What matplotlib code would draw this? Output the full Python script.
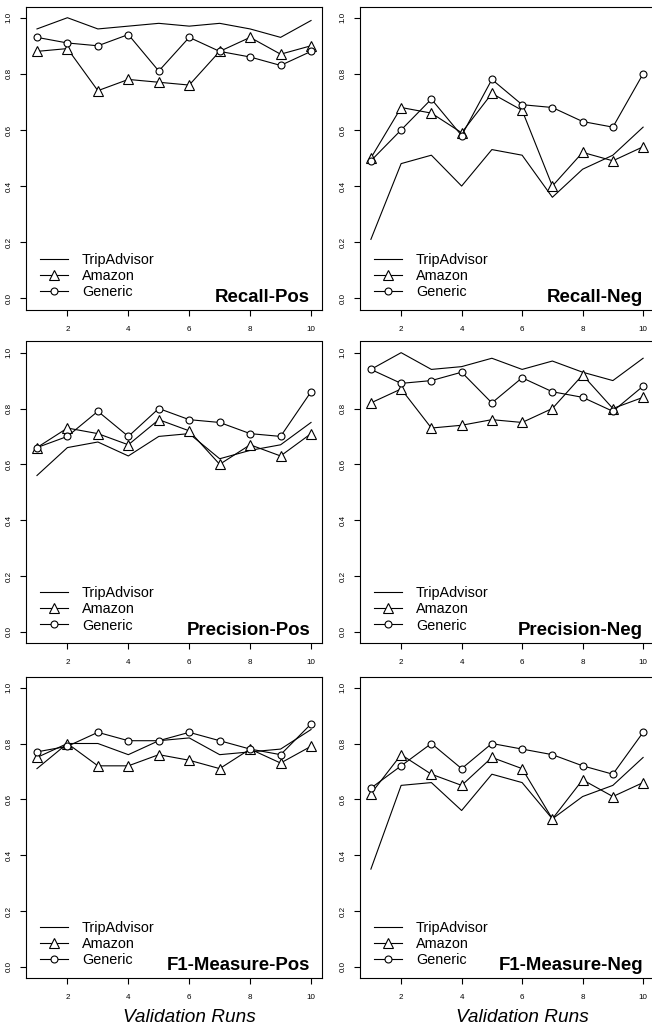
import matplotlib
matplotlib.use("Agg")
import matplotlib.pyplot as plt
import matplotlib.transforms as mtransforms
from matplotlib.lines import Line2D

plt.rcParams['font.family'] = ['Liberation Sans', 'DejaVu Sans']

runs = list(range(1, 11))
series_names = ["TripAdvisor", "Amazon", "Generic"]

recall_pos_trip = [0.96, 1.00, 0.96, 0.97, 0.98, 0.97, 0.98, 0.96, 0.93, 0.99]
recall_pos_amz = [0.88, 0.89, 0.74, 0.78, 0.77, 0.76, 0.88, 0.93, 0.87, 0.90]
recall_pos_gen = [0.93, 0.91, 0.90, 0.94, 0.81, 0.93, 0.88, 0.86, 0.83, 0.88]

recall_neg_trip = [0.21, 0.48, 0.51, 0.40, 0.53, 0.51, 0.36, 0.46, 0.51, 0.61]
recall_neg_amz = [0.50, 0.68, 0.66, 0.59, 0.73, 0.67, 0.40, 0.52, 0.49, 0.54]
recall_neg_gen = [0.49, 0.60, 0.71, 0.58, 0.78, 0.69, 0.68, 0.63, 0.61, 0.80]

prec_pos_trip = [0.56, 0.66, 0.68, 0.63, 0.70, 0.71, 0.62, 0.65, 0.67, 0.75]
prec_pos_amz = [0.66, 0.73, 0.71, 0.67, 0.76, 0.72, 0.60, 0.67, 0.63, 0.71]
prec_pos_gen = [0.66, 0.70, 0.79, 0.70, 0.80, 0.76, 0.75, 0.71, 0.70, 0.86]

prec_neg_trip = [0.94, 1.00, 0.94, 0.95, 0.98, 0.94, 0.97, 0.93, 0.90, 0.98]
prec_neg_amz = [0.82, 0.87, 0.73, 0.74, 0.76, 0.75, 0.80, 0.92, 0.80, 0.84]
prec_neg_gen = [0.94, 0.89, 0.90, 0.93, 0.82, 0.91, 0.86, 0.84, 0.79, 0.88]

f1_pos_trip = [0.71, 0.80, 0.80, 0.76, 0.81, 0.82, 0.76, 0.77, 0.78, 0.85]
f1_pos_amz = [0.75, 0.80, 0.72, 0.72, 0.76, 0.74, 0.71, 0.78, 0.73, 0.79]
f1_pos_gen = [0.77, 0.79, 0.84, 0.81, 0.81, 0.84, 0.81, 0.78, 0.76, 0.87]

f1_neg_trip = [0.35, 0.65, 0.66, 0.56, 0.69, 0.66, 0.53, 0.61, 0.65, 0.75]
f1_neg_amz = [0.62, 0.76, 0.69, 0.65, 0.75, 0.71, 0.53, 0.67, 0.61, 0.66]
f1_neg_gen = [0.64, 0.72, 0.80, 0.71, 0.80, 0.78, 0.76, 0.72, 0.69, 0.84]

panel_titles = ["Recall-Pos", "Recall-Neg", "Precision-Pos", "Precision-Neg",
                "F1-Measure-Pos", "F1-Measure-Neg"]
panel_data = [
    (recall_pos_trip, recall_pos_amz, recall_pos_gen),
    (recall_neg_trip, recall_neg_amz, recall_neg_gen),
    (prec_pos_trip, prec_pos_amz, prec_pos_gen),
    (prec_neg_trip, prec_neg_amz, prec_neg_gen),
    (f1_pos_trip, f1_pos_amz, f1_pos_gen),
    (f1_neg_trip, f1_neg_amz, f1_neg_gen),
]
x_ticks = [2, 4, 6, 8, 10]
y_ticks = [0.0, 0.2, 0.4, 0.6, 0.8, 1.0]
x_label = "Validation Runs"

W, H = 652, 1026
fig = plt.figure(figsize=(W / 100, H / 100), dpi=100)

cols = [(26, 322), (360, 654)]
rows = [(6.5, 309.5), (341.5, 643), (676.5, 978)]
title_end = [310, 643]

def px_rect(x0, x1, y0, y1):
    return [x0 / W, 1 - y1 / H, (x1 - x0) / W, (y1 - y0) / H]

LW = 0.8
for i, (title, (trip, amz, gen)) in enumerate(zip(panel_titles, panel_data)):
    r, c = divmod(i, 2)
    x0, x1 = cols[c]
    y0, y1 = rows[r]
    ax = fig.add_axes(px_rect(x0, x1, y0, y1))
    ax.plot(runs, trip, color='black', lw=LW)
    ax.plot(runs, amz, color='black', lw=LW, marker='^', ms=7,
            mfc='white', mec='black', mew=0.8)
    ax.plot(runs, gen, color='black', lw=LW, marker='o', ms=5,
            mfc='white', mec='black', mew=0.8)
    ax.set_xlim(0.64, 10.36)
    ax.set_ylim(-0.04, 1.04)
    ax.set_xticks(x_ticks)
    ax.set_xticklabels([str(v) for v in x_ticks])
    ax.set_yticks(y_ticks)
    ax.set_yticklabels([f"{v:.1f}" for v in y_ticks], rotation=90, va='center')
    ax.tick_params(axis='both', direction='out', length=4, width=0.8,
                   labelsize=5.8, colors='black')
    ax.tick_params(axis='x', pad=7.6)
    ax.tick_params(axis='y', pad=5.8)
    for s in ax.spines.values():
        s.set_linewidth(0.8)
        s.set_color('black')

    handles = [
        Line2D([], [], color='black', lw=LW),
        Line2D([], [], color='black', lw=LW, marker='^', ms=7, mfc='white', mec='black', mew=0.8),
        Line2D([], [], color='black', lw=LW, marker='o', ms=5, mfc='white', mec='black', mew=0.8),
    ]
    axh = y1 - y0
    axw = x1 - x0
    ax.legend(handles, series_names, loc='lower left',
              bbox_to_anchor=(13.5 / axw, 10.5 / axh), frameon=False,
              fontsize=10.4, handlelength=1.95, handletextpad=1.0,
              labelspacing=0.14, borderpad=0, borderaxespad=0)

    ax.annotate(title, xy=((title_end[c] - x0) / axw, 0), xycoords='axes fraction',
                xytext=(0, 8 * 0.72), textcoords='offset points',
                ha='right', va='baseline', fontsize=13.4, fontweight='bold')

    if r == 2:
        tr = mtransforms.blended_transform_factory(ax.transData, fig.transFigure)
        ax.text(6, 1 - 1022 / H, x_label, transform=tr,
                ha='center', va='baseline', fontsize=13.7, style='italic')

fig.savefig("out.png", dpi=100)
